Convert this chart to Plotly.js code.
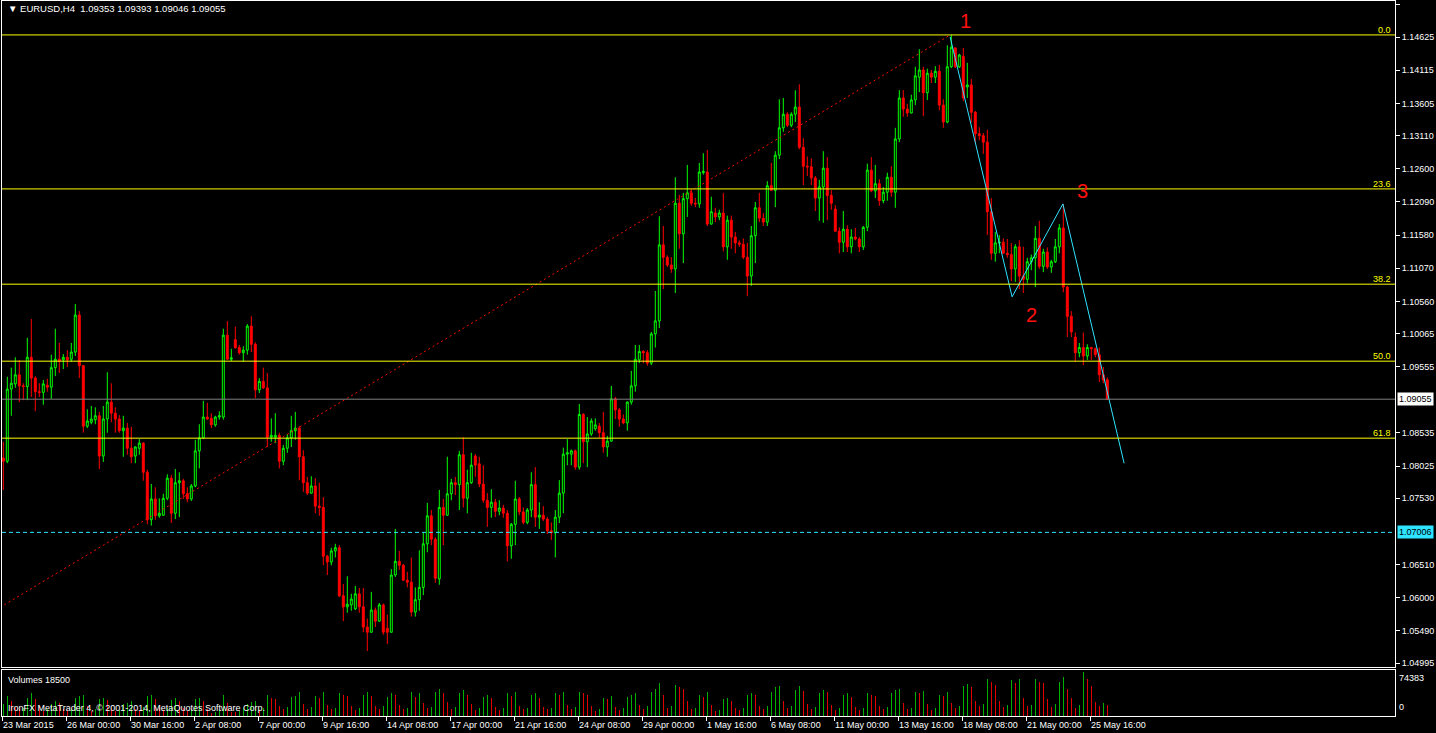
<!DOCTYPE html>
<html><head><meta charset="utf-8">
<script src="https://cdn.plot.ly/plotly-3.0.1.min.js"></script>
<style>html,body{margin:0;padding:0;background:#000;overflow:hidden}#chart{width:1436px;height:733px;}</style>
</head><body><div id="chart"></div>
<script>
const symbolTitle = "EURUSD,H4";
const opens = [1.0815,1.0810,1.0921,1.0929,1.0943,1.0926,1.0925,1.0970,1.0938,1.0917,
1.0916,1.0927,1.0924,1.0954,1.0967,1.0966,1.0970,1.0967,1.0978,1.1035,
1.0957,1.0864,1.0870,1.0874,1.0880,1.0818,1.0875,1.0901,1.0884,1.0875,
1.0857,1.0861,1.0830,1.0818,1.0830,1.0838,1.0793,1.0720,1.0752,1.0726,
1.0727,1.0753,1.0784,1.0730,1.0777,1.0780,1.0760,1.0752,1.0772,1.0826,
1.0846,1.0878,1.0876,1.0866,1.0878,1.0878,1.1004,1.0967,1.0997,1.0985,
1.0977,1.0981,1.1018,1.0990,1.0920,1.0933,1.0923,1.0847,1.0847,1.0850,
1.0810,1.0830,1.0846,1.0857,1.0861,1.0817,1.0777,1.0761,1.0772,1.0741,
1.0739,1.0664,1.0655,1.0672,1.0677,1.0603,1.0586,1.0589,1.0583,1.0606,
1.0586,1.0555,1.0547,1.0581,1.0564,1.0589,1.0553,1.0547,1.0635,1.0656,
1.0650,1.0627,1.0624,1.0578,1.0597,1.0616,1.0683,1.0726,1.0690,1.0629,
1.0739,1.0727,1.0760,1.0777,1.0774,1.0820,1.0753,1.0777,1.0818,1.0806,
1.0775,1.0750,1.0739,1.0747,1.0733,1.0738,1.0730,1.0680,1.0713,1.0752,
1.0732,1.0716,1.0735,1.0774,1.0724,1.0727,1.0721,1.0703,1.0700,1.0724,
1.0761,1.0821,1.0821,1.0826,1.0801,1.0882,1.0840,1.0852,1.0860,1.0864,
1.0854,1.0832,1.0841,1.0906,1.0889,1.0875,1.0869,1.0901,1.0926,1.0966,
1.0979,1.0977,1.0961,1.1006,1.1026,1.1143,1.1124,1.1112,1.1106,1.1207,
1.1160,1.1214,1.1223,1.1207,1.1206,1.1254,1.1255,1.1175,1.1192,1.1186,
1.1192,1.1140,1.1181,1.1155,1.1146,1.1144,1.1124,1.1095,1.1157,1.1200,
1.1184,1.1178,1.1234,1.1227,1.1281,1.1323,1.1344,1.1327,1.1344,1.1355,
1.1293,1.1264,1.1263,1.1246,1.1215,1.1232,1.1261,1.1219,1.1198,1.1164,
1.1147,1.1167,1.1140,1.1155,1.1152,1.1140,1.1170,1.1258,1.1226,1.1237,
1.1211,1.1224,1.1247,1.1224,1.1306,1.1369,1.1352,1.1346,1.1366,1.1401,
1.1412,1.1377,1.1407,1.1401,1.1410,1.1358,1.1332,1.1417,1.1446,1.1417,
1.1433,1.1386,1.1389,1.1347,1.1314,1.1311,1.1301,1.1194,1.1130,1.1146,
1.1147,1.1130,1.1128,1.1106,1.1140,1.1095,1.1090,1.1117,1.1123,1.1153,
1.1110,1.1132,1.1109,1.1117,1.1140,1.1169,1.1078,1.1033,1.1001,1.0977,
1.0985,1.0972,1.0985,1.0983,1.0974,1.0943,1.09353];
const highs = [1.0840,1.0940,1.0954,1.0970,1.0966,1.0930,1.1000,1.1029,1.0941,1.0930,
1.0935,1.0937,1.0974,1.1014,1.0992,1.0975,1.0981,1.0992,1.1052,1.1041,
1.0958,1.0890,1.0895,1.0893,1.0886,1.0895,1.0947,1.0930,1.0893,1.0881,
1.0880,1.0869,1.0863,1.0833,1.0844,1.0839,1.0797,1.0775,1.0770,1.0753,
1.0760,1.0790,1.0789,1.0798,1.0793,1.0783,1.0770,1.0775,1.0843,1.0867,
1.0903,1.0900,1.0884,1.0880,1.0887,1.1014,1.1026,1.0983,1.1017,1.0989,
1.0987,1.1021,1.1033,1.0993,1.0938,1.0954,1.0946,1.0876,1.0884,1.0854,
1.0835,1.0852,1.0880,1.0886,1.0864,1.0827,1.0786,1.0787,1.0784,1.0777,
1.0755,1.0666,1.0677,1.0683,1.0681,1.0621,1.0633,1.0606,1.0618,1.0615,
1.0615,1.0568,1.0609,1.0585,1.0592,1.0591,1.0574,1.0644,1.0706,1.0672,
1.0652,1.0640,1.0662,1.0616,1.0673,1.0700,1.0746,1.0735,1.0693,1.0766,
1.0752,1.0817,1.0783,1.0786,1.0826,1.0847,1.0797,1.0823,1.0821,1.0817,
1.0804,1.0761,1.0767,1.0752,1.0750,1.0743,1.0735,1.0715,1.0780,1.0755,
1.0739,1.0738,1.0793,1.0801,1.0747,1.0741,1.0724,1.0716,1.0735,1.0781,
1.0831,1.0844,1.0828,1.0828,1.0898,1.0884,1.0878,1.0876,1.0876,1.0869,
1.0886,1.0849,1.0926,1.0909,1.0892,1.0882,1.0902,1.0949,1.0989,1.0989,
1.0981,1.0981,1.1009,1.1072,1.1187,1.1172,1.1127,1.1124,1.1247,1.1220,
1.1223,1.1266,1.1229,1.1215,1.1269,1.1284,1.1289,1.1217,1.1200,1.1197,
1.1223,1.1188,1.1188,1.1163,1.1150,1.1153,1.1146,1.1172,1.1209,1.1223,
1.1192,1.1241,1.1269,1.1287,1.1367,1.1369,1.1347,1.1347,1.1381,1.1390,
1.1307,1.1279,1.1276,1.1249,1.1243,1.1287,1.1278,1.1227,1.1204,1.1170,
1.1195,1.1173,1.1167,1.1169,1.1155,1.1172,1.1268,1.1278,1.1266,1.1244,
1.1232,1.1254,1.1264,1.1323,1.1381,1.1381,1.1360,1.1374,1.1417,1.1444,
1.1417,1.1414,1.1412,1.1418,1.1420,1.1367,1.1450,1.1466,1.1447,1.1437,
1.1446,1.1423,1.1398,1.1349,1.1324,1.1315,1.1320,1.1215,1.1163,1.1158,
1.1153,1.1152,1.1146,1.1144,1.1150,1.1140,1.1123,1.1128,1.1172,1.1180,
1.1137,1.1139,1.1120,1.1152,1.1175,1.1206,1.1080,1.1041,1.1008,1.0992,
1.1008,1.0990,1.0986,1.0985,1.0985,1.0955,1.09393];
const lows = [1.0766,1.0807,1.0880,1.0923,1.0901,1.0904,1.0904,1.0909,1.0887,1.0909,
1.0897,1.0917,1.0906,1.0941,1.0946,1.0952,1.0955,1.0963,1.0972,1.0938,
1.0854,1.0861,1.0867,1.0867,1.0798,1.0809,1.0854,1.0870,1.0854,1.0854,
1.0817,1.0820,1.0807,1.0807,1.0820,1.0780,1.0713,1.0711,1.0720,1.0723,
1.0726,1.0750,1.0715,1.0721,1.0724,1.0752,1.0747,1.0749,1.0770,1.0799,
1.0844,1.0874,1.0861,1.0863,1.0874,1.0874,1.0966,1.0964,1.0983,1.0974,
1.0963,1.0974,1.0978,1.0907,1.0915,1.0921,1.0832,1.0840,1.0838,1.0799,
1.0804,1.0823,1.0832,1.0843,1.0781,1.0763,1.0758,1.0760,1.0730,1.0726,
1.0650,1.0635,1.0650,1.0662,1.0601,1.0564,1.0577,1.0580,1.0581,1.0577,
1.0547,1.0518,1.0546,1.0555,1.0563,1.0543,1.0529,1.0546,1.0632,1.0643,
1.0626,1.0616,1.0571,1.0571,1.0580,1.0604,1.0670,1.0681,1.0623,1.0620,
1.0681,1.0726,1.0750,1.0758,1.0735,1.0739,1.0730,1.0775,1.0786,1.0770,
1.0746,1.0709,1.0723,1.0724,1.0727,1.0723,1.0656,1.0660,1.0681,1.0727,
1.0713,1.0713,1.0724,1.0709,1.0706,1.0718,1.0698,1.0689,1.0662,1.0715,
1.0730,1.0804,1.0804,1.0797,1.0797,1.0807,1.0801,1.0849,1.0857,1.0846,
1.0823,1.0817,1.0840,1.0875,1.0863,1.0867,1.0857,1.0897,1.0917,1.0961,
1.0961,1.0957,1.0958,1.0985,1.1015,1.1075,1.1109,1.1100,1.1069,1.1137,
1.1115,1.1186,1.1203,1.1201,1.1200,1.1251,1.1172,1.1174,1.1178,1.1181,
1.1133,1.1120,1.1137,1.1130,1.1140,1.1121,1.1064,1.1080,1.1115,1.1178,
1.1172,1.1172,1.1226,1.1201,1.1275,1.1317,1.1324,1.1324,1.1332,1.1290,
1.1235,1.1249,1.1235,1.1195,1.1180,1.1177,1.1181,1.1197,1.1163,1.1130,
1.1132,1.1132,1.1130,1.1150,1.1132,1.1135,1.1164,1.1224,1.1215,1.1203,
1.1207,1.1211,1.1217,1.1200,1.1301,1.1340,1.1340,1.1345,1.1358,1.1378,
1.1341,1.1366,1.1392,1.1392,1.1350,1.1323,1.1330,1.1415,1.1415,1.1415,
1.1364,1.1369,1.1331,1.1300,1.1304,1.1283,1.1158,1.1120,1.1117,1.1130,
1.1129,1.1123,1.1087,1.1086,1.1075,1.1069,1.1084,1.1104,1.1078,1.1106,
1.1101,1.1106,1.1100,1.1115,1.1130,1.1070,1.1001,1.1001,1.0963,1.0970,
1.0958,1.0966,1.0966,1.0970,1.0932,1.0930,1.09046];
const closes = [1.0810,1.0921,1.0930,1.0943,1.0926,1.0925,1.0970,1.0938,1.0917,1.0916,
1.0929,1.0924,1.0954,1.0967,1.0964,1.0970,1.0966,1.0978,1.1035,1.0957,
1.0864,1.0872,1.0875,1.0880,1.0818,1.0875,1.0901,1.0884,1.0875,1.0857,
1.0861,1.0830,1.0817,1.0832,1.0838,1.0793,1.0720,1.0752,1.0726,1.0730,
1.0753,1.0784,1.0730,1.0777,1.0780,1.0760,1.0752,1.0772,1.0826,1.0846,
1.0878,1.0875,1.0866,1.0878,1.0880,1.1004,1.0967,1.0969,1.0985,1.0977,
1.0981,1.1018,1.0990,1.0920,1.0933,1.0923,1.0847,1.0850,1.0850,1.0810,
1.0830,1.0846,1.0857,1.0861,1.0817,1.0777,1.0761,1.0772,1.0741,1.0739,
1.0664,1.0655,1.0672,1.0677,1.0603,1.0586,1.0590,1.0598,1.0606,1.0586,
1.0555,1.0547,1.0581,1.0564,1.0589,1.0547,1.0547,1.0635,1.0656,1.0650,
1.0627,1.0624,1.0578,1.0597,1.0616,1.0683,1.0726,1.0690,1.0630,1.0739,
1.0727,1.0760,1.0777,1.0774,1.0820,1.0753,1.0777,1.0804,1.0804,1.0775,
1.0750,1.0739,1.0747,1.0733,1.0738,1.0730,1.0680,1.0713,1.0752,1.0732,
1.0716,1.0735,1.0774,1.0724,1.0727,1.0721,1.0703,1.0700,1.0724,1.0761,
1.0821,1.0823,1.0826,1.0801,1.0882,1.0840,1.0852,1.0872,1.0866,1.0854,
1.0832,1.0841,1.0906,1.0889,1.0875,1.0869,1.0901,1.0926,1.0967,1.0979,
1.0977,1.0961,1.1006,1.1026,1.1143,1.1124,1.1112,1.1106,1.1207,1.1160,
1.1214,1.1223,1.1207,1.1206,1.1255,1.1256,1.1175,1.1194,1.1186,1.1192,
1.1140,1.1181,1.1155,1.1146,1.1144,1.1124,1.1095,1.1157,1.1200,1.1184,
1.1178,1.1234,1.1227,1.1281,1.1323,1.1344,1.1327,1.1344,1.1355,1.1293,
1.1264,1.1263,1.1246,1.1215,1.1232,1.1261,1.1219,1.1207,1.1164,1.1147,
1.1167,1.1140,1.1155,1.1152,1.1140,1.1170,1.1258,1.1226,1.1237,1.1211,
1.1224,1.1247,1.1224,1.1306,1.1369,1.1352,1.1346,1.1366,1.1403,1.1412,
1.1377,1.1407,1.1401,1.1410,1.1358,1.1332,1.1417,1.1447,1.1417,1.1435,
1.1369,1.1389,1.1347,1.1314,1.1311,1.1301,1.1194,1.1130,1.1146,1.1147,
1.1130,1.1128,1.1106,1.1140,1.1095,1.1090,1.1117,1.1123,1.1153,1.1110,
1.1132,1.1109,1.1117,1.1140,1.1169,1.1078,1.1033,1.1009,1.0977,1.0985,
1.0972,1.0985,1.0983,1.0974,1.0943,1.0935,1.09055];
const volumes = [20000,33000,25000,15000,
11000,14000,30000,38000,28000,16000,
8000,11000,20000,26000,22000,12000,
9000,12000,30000,33000,36000,16000,
8000,12000,28000,30000,27000,15000,
8000,10000,20000,22000,25000,12000,
9000,15000,34000,36000,28000,14000,
10000,14000,27000,30000,25000,13000,
9000,12000,28000,30000,26000,12000,
5000,6000,10000,36000,22000,7000,
7000,9000,14000,20000,24000,26000,
10000,14000,35000,30000,28000,17000,
11000,15000,32000,34000,41000,20000,
11000,15000,33000,30000,40000,18000,
11000,14000,38000,36000,34000,16000,
10000,14000,36000,40000,34000,17000,
11000,16000,32000,38000,36000,18000,
11000,14000,40000,32000,38000,22000,
14000,15000,40000,46000,38000,24000,
12000,15000,38000,43000,36000,20000,
10000,14000,32000,36000,30000,15000,
10000,13000,38000,34000,40000,17000,
11000,14000,35000,38000,30000,15000,
12000,14000,38000,36000,41000,18000,
12000,15000,40000,38000,35000,16000,
9000,12000,30000,28000,33000,15000,
10000,13000,32000,36000,38000,18000,
12000,16000,40000,45000,55000,35000,
14000,17000,53000,48000,45000,25000,
11000,14000,36000,32000,40000,18000,
8000,10000,28000,30000,26000,13000,
10000,14000,36000,38000,35000,17000,
12000,16000,40000,48000,51000,25000,
14000,16000,44000,50000,42000,20000,
12000,15000,38000,44000,40000,18000,
10000,13000,36000,38000,32000,15000,
10000,13000,38000,35000,33000,16000,
11000,15000,38000,44000,45000,22000,
11000,14000,40000,38000,42000,20000,
10000,13000,36000,34000,40000,22000,
14000,16000,50000,54000,48000,26000,
16000,20000,62000,58000,52000,26000,
15000,18000,60000,56000,62000,30000,
16000,19000,62000,58000,55000,28000,
15000,20000,58000,66000,45000,30000,
14000,18000,74383,62000,50000,24000,
16000,22000,18500];

const timeLabels = ["23 Mar 2015","26 Mar 00:00","30 Mar 16:00","2 Apr 08:00","7 Apr 00:00","9 Apr 16:00",
"14 Apr 08:00","17 Apr 00:00","21 Apr 16:00","24 Apr 08:00","29 Apr 00:00","1 May 16:00","6 May 08:00",
"11 May 00:00","13 May 16:00","18 May 08:00","21 May 00:00","25 May 16:00"];
const barsPerLabel = 16;

const priceTicks = [1.15135,1.14625,1.14115,1.13605,1.13110,1.12600,1.12090,1.11580,1.11070,1.10560,
1.10065,1.09555,1.08535,1.08025,1.07530,1.06510,1.06000,1.05490,1.04995];
const priceTickText = ["1.15135","1.14625","1.14115","1.13605","1.13110","1.12600","1.12090","1.11580","1.11070","1.10560",
"1.10065","1.09555","1.08535","1.08025","1.07530","1.06510","1.06000","1.05490","1.04995"];

// Fibonacci retracement
const fibPrice0 = 1.1466, fibPrice100 = 1.0462;
const fibLevels = [0.0, 23.6, 38.2, 50.0, 61.8];
const fibLabels = ["0.0","23.6","38.2","50.0","61.8"];
const fibAnchorBar = [-34, 236.7];
const fibAnchorPrice = [1.0462, 1.1466];

// wave drawing (cyan)
const waveBar = [236.7, 252.2, 264.9, 280.2];
const wavePrice = [1.1463, 1.1063, 1.1206, 1.0807];
const waveLabels = ["1","2","3"];

// horizontal line
const hLinePrice = 1.07006;

const N = closes.length;
const xs = closes.map((c,i)=>i);
const font = "Liberation Sans, Arial, sans-serif";
const cyan = "#2fe4ff";
const volMax = Math.max(...volumes);

const traces = [];
traces.push({type:'scatter',mode:'lines',x:fibAnchorBar,y:fibAnchorPrice,xaxis:'x',yaxis:'y',
  line:{color:'#ff0000',width:1,dash:'2px,3px'},hoverinfo:'skip'});
traces.push({type:'candlestick',x:xs,open:opens,high:highs,low:lows,close:closes,xaxis:'x',yaxis:'y',
  increasing:{line:{color:'#00ff00',width:1},fillcolor:'#000000'},
  decreasing:{line:{color:'#ff0000',width:1},fillcolor:'#ff0000'},
  whiskerwidth:0,hoverinfo:'none'});
traces.push({type:'scatter',mode:'lines',x:waveBar,y:wavePrice,xaxis:'x',yaxis:'y',
  line:{color:cyan,width:1},hoverinfo:'skip'});
// MT4 Volumes: green when volume rises vs previous bar, red otherwise
const volColors = volumes.map((v,i)=> (i===0 || v>volumes[i-1]) ? '#00b000' : '#e00000');
traces.push({type:'bar',x:xs,y:volumes,xaxis:'x2',yaxis:'y2',width:0.25,
  marker:{color:volColors,line:{width:0}},hoverinfo:'skip'});

const shapes = [];
const annotations = [];
fibLevels.forEach((lv,k)=>{
  const p = fibPrice0 - (fibPrice0-fibPrice100)*lv/100;
  shapes.push({type:'line',xref:'x domain',yref:'y',x0:0,x1:1,y0:p,y1:p,line:{color:'#ffff00',width:1}});
  annotations.push({xref:'x domain',yref:'y',x:1,y:p,xanchor:'right',yanchor:'bottom',xshift:-2,yshift:-2,
    text:fibLabels[k],showarrow:false,font:{family:font,size:9,color:'#ffff00'}});
});
const lastClose = closes[N-1];
shapes.push({type:'line',xref:'x domain',yref:'y',x0:0,x1:1,y0:lastClose,y1:lastClose,line:{color:'#808080',width:1}});
shapes.push({type:'line',xref:'x domain',yref:'y',x0:0,x1:1,y0:hLinePrice,y1:hLinePrice,line:{color:cyan,width:1,dash:'4px,3px'}});

annotations.push({xref:'paper',yref:'y',x:1,y:lastClose,xanchor:'left',yanchor:'middle',xshift:2,
  text:lastClose.toFixed(5),showarrow:false,bgcolor:'#ffffff',borderpad:1,font:{family:font,size:9,color:'#000'}});
annotations.push({xref:'paper',yref:'y',x:1,y:hLinePrice,xanchor:'left',yanchor:'middle',xshift:2,
  text:hLinePrice.toFixed(5),showarrow:false,bgcolor:cyan,borderpad:1,font:{family:font,size:9,color:'#000'}});

const waveShift = [[15,16],[19,-18],[20,13]];
waveLabels.forEach((t,k)=>{
  annotations.push({xref:'x',yref:'y',x:waveBar[k],y:wavePrice[k],xshift:waveShift[k][0],yshift:waveShift[k][1],
    text:t,showarrow:false,font:{family:font,size:20,color:'#ff1010'}});
});

annotations.push({xref:'paper',yref:'paper',x:0,y:1,xanchor:'left',yanchor:'top',xshift:4,yshift:0,
  text:'\u25BC '+symbolTitle+'  '+[opens[N-1],highs[N-1],lows[N-1],closes[N-1]].map(v=>v.toFixed(5)).join(' '),
  showarrow:false,font:{family:font,size:9.5,color:'#fff'}});
annotations.push({xref:'paper',yref:'y2 domain',x:0,y:1,xanchor:'left',yanchor:'top',xshift:4,yshift:-3,
  text:'Volumes '+volumes[N-1],showarrow:false,font:{family:font,size:9,color:'#fff'}});
annotations.push({xref:'paper',yref:'y2 domain',x:0,y:0,xanchor:'left',yanchor:'bottom',xshift:4,yshift:1,
  text:'IronFX MetaTrader 4, \u00A9 2001-2014, MetaQuotes Software Corp.',showarrow:false,font:{family:font,size:9,color:'#fff'}});
annotations.push({xref:'paper',yref:'y2 domain',x:1,y:1,xanchor:'left',yanchor:'top',xshift:2,yshift:-1,
  text:String(volMax),showarrow:false,font:{family:font,size:9,color:'#fff'}});
annotations.push({xref:'paper',yref:'y2 domain',x:1,y:0,xanchor:'left',yanchor:'bottom',xshift:2,yshift:2,
  text:'0',showarrow:false,font:{family:font,size:9,color:'#fff'}});

const xr = [-0.325, 347.925];
const layout = {
  width:1436,height:733,paper_bgcolor:'#000',plot_bgcolor:'#000',showlegend:false,
  margin:{l:2,r:41,t:1,b:17},bargap:0,
  xaxis:{domain:[0,1],range:xr,anchor:'y',showgrid:false,zeroline:false,showticklabels:false,ticks:'',
    showline:true,mirror:true,linecolor:'#ffffff',linewidth:1,rangeslider:{visible:false},fixedrange:true},
  yaxis:{domain:[0.0685,1],range:[1.04934,1.15182],anchor:'x',side:'right',showgrid:false,zeroline:false,
    showline:true,mirror:true,linecolor:'#ffffff',linewidth:1,ticks:'outside',ticklen:4,tickcolor:'#ffffff',
    tickvals:priceTicks,ticktext:priceTickText,tickfont:{family:font,size:9,color:'#ffffff'},fixedrange:true},
  xaxis2:{domain:[0,1],range:xr,anchor:'y2',showgrid:false,zeroline:false,showline:true,mirror:true,
    linecolor:'#ffffff',linewidth:1,ticks:'outside',ticklen:4,tickcolor:'#ffffff',
    tickvals:timeLabels.map((t,k)=>k*barsPerLabel-0.3),ticktext:timeLabels,ticklabelposition:'outside right',
    tickfont:{family:font,size:9,color:'#ffffff'},fixedrange:true},
  yaxis2:{domain:[0,0.0643],range:[0,volMax*1.04],anchor:'x2',side:'right',showgrid:false,zeroline:false,showline:true,mirror:true,
    linecolor:'#ffffff',linewidth:1,showticklabels:false,ticks:'',fixedrange:true},
  shapes:shapes,annotations:annotations
};
Plotly.newPlot('chart',traces,layout,{displayModeBar:false,staticPlot:true});
</script>
</body></html>
